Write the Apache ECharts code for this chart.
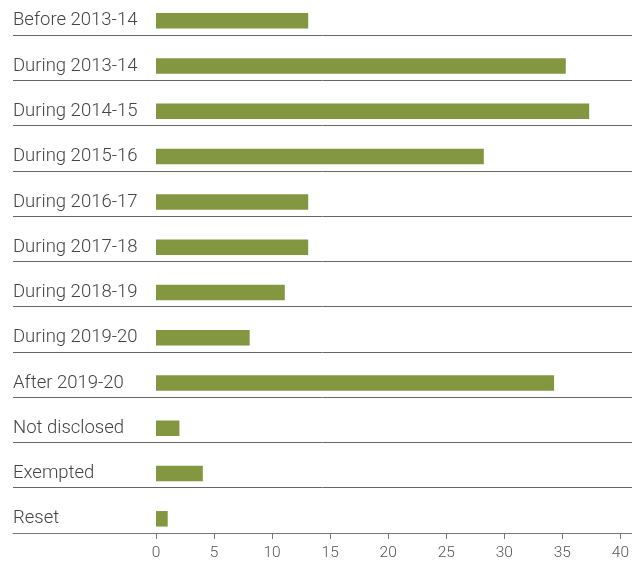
<!DOCTYPE html>
<html>
<head>
<meta charset="utf-8">
<script src="https://cdn.jsdelivr.net/npm/echarts@6/dist/echarts.min.js"></script>
<style>html,body{margin:0;padding:0;background:#fff}#c{width:632px;height:575px}</style>
</head>
<body>
<div id="c"></div>
<script>
const categories = ["Before 2013-14","During 2013-14","During 2014-15","During 2015-16","During 2016-17","During 2017-18","During 2018-19","During 2019-20","After 2019-20","Not disclosed","Exempted","Reset"];
const values = [13, 35, 37, 28, 13, 13, 11, 8, 34, 2, 4, 1];
const xMin = 0, xMax = 40, xInterval = 5;
// separator bands between successive categories
const separatorBands = categories.slice(1);

const chart = echarts.init(document.getElementById('c'), null, {renderer: 'canvas'});
const font = 'Roboto, Liberation Sans, Arial, sans-serif';
chart.setOption({
  animation: false,
  backgroundColor: '#fff',
  grid: [
    {left: 156, right: 7.7, top: 35, bottom: 42},
    {left: 13, right: 0, top: 35, bottom: 42},
    {left: 156, right: 7.7, top: 20.8, bottom: 56.2}
  ],
  xAxis: [
    {gridIndex: 0, type: 'value', min: xMin, max: xMax, interval: xInterval,
     axisLine: {show: false}, splitLine: {show: false},
     axisTick: {show: true, length: 6, lineStyle: {color: '#777', width: 1}},
     axisLabel: {color: '#555', fontSize: 15.5, fontWeight: 300, margin: 12, fontFamily: font}},
    {gridIndex: 1, type: 'value', min: 0, max: 1, show: true,
     axisLine: {show: true, lineStyle: {color: '#777', width: 1}},
     axisTick: {show: false}, axisLabel: {show: false}, splitLine: {show: false}},
    {gridIndex: 2, type: 'value', min: xMin, max: xMax, show: false}
  ],
  yAxis: [
    {gridIndex: 0, type: 'category', data: separatorBands, inverse: true, show: false},
    {gridIndex: 1, type: 'category', data: separatorBands, inverse: true,
     axisLine: {show: false}, axisTick: {show: false}, axisLabel: {show: false},
     splitLine: {show: true, lineStyle: {color: '#666', width: 1}}},
    {gridIndex: 2, type: 'category', data: categories, inverse: true, boundaryGap: false,
     axisLine: {show: false}, axisTick: {show: false}, splitLine: {show: false},
     axisLabel: {align: 'left', margin: 143, color: '#444', fontSize: 18.5, fontWeight: 300,
                 fontFamily: font, padding: [4, 0, 0, 0]}}
  ],
  series: [
    {type: 'bar', xAxisIndex: 2, yAxisIndex: 2, data: values, barWidth: 15.5,
     itemStyle: {color: '#839640'}}
  ]
});
</script>
</body>
</html>
